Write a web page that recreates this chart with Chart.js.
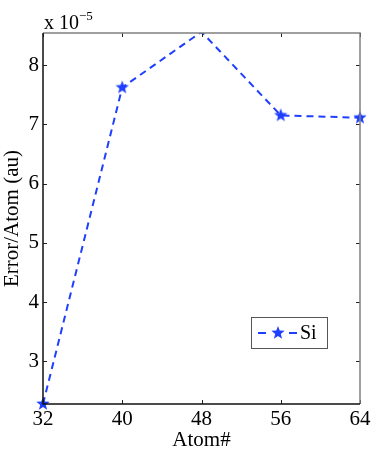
<!DOCTYPE html>
<html><head><meta charset="utf-8">
<script src="https://cdn.jsdelivr.net/npm/chart.js@4"></script>
<style>html,body{margin:0;padding:0;background:#fff}#wrap{width:374px;height:453px}</style>
</head><body><div id="wrap"><canvas id="c" width="374" height="453"></canvas></div>
<script>
const atoms = [32, 40, 48, 56, 64];
const si = [2.28, 7.62, 8.56, 7.15, 7.11];
const xTicks = [32, 40, 48, 56, 64];
const yTicks = [3, 4, 5, 6, 7, 8];
const seriesName = 'Si';
const xTitle = 'Atom#';
const yTitle = 'Error/Atom (au)';
const Y_MIN = 2.28, Y_MAX = 8.54;
const BLUE = '#1f3fff';
const FONT = '"Liberation Serif", "DejaVu Serif", serif';

function starCanvas(r, color) {
  const s = Math.ceil(r * 2 + 2);
  const c = document.createElement('canvas');
  c.width = s; c.height = s;
  const g = c.getContext('2d');
  g.fillStyle = color; g.beginPath();
  const cx = s / 2, cy = s / 2, ri = r * 0.42;
  for (let i = 0; i < 10; i++) {
    const a = -Math.PI / 2 + i * Math.PI / 5;
    const rr = i % 2 ? ri : r;
    const x = cx + rr * Math.cos(a), y = cy + rr * Math.sin(a);
    i ? g.lineTo(x, y) : g.moveTo(x, y);
  }
  g.closePath(); g.fill();
  return c;
}
const star = starCanvas(7, BLUE);

const framePlugin = {
  id: 'frame',
  afterDraw(chart) {
    const {ctx, chartArea: a, scales: {x, y}} = chart;
    ctx.save();
    ctx.lineWidth = 1;
    ctx.strokeStyle = '#222';
    xTicks.forEach(v => {
      const px = Math.round(x.getPixelForValue(v)) + 0.5;
      ctx.beginPath(); ctx.moveTo(px, a.bottom); ctx.lineTo(px, a.bottom - 4); ctx.stroke();
      ctx.beginPath(); ctx.moveTo(px, a.top); ctx.lineTo(px, a.top + 4); ctx.stroke();
    });
    yTicks.forEach(v => {
      const py = Math.round(y.getPixelForValue(v)) + 0.5;
      ctx.beginPath(); ctx.moveTo(a.left, py); ctx.lineTo(a.left + 4, py); ctx.stroke();
      ctx.beginPath(); ctx.moveTo(a.right, py); ctx.lineTo(a.right - 4, py); ctx.stroke();
    });
    ctx.lineWidth = 1.5;
    ctx.strokeStyle = '#808080';
    ctx.beginPath(); ctx.moveTo(a.left, a.top); ctx.lineTo(a.right, a.top); ctx.lineTo(a.right, a.bottom); ctx.stroke();
    ctx.strokeStyle = '#111';
    ctx.beginPath(); ctx.moveTo(a.left, a.top); ctx.lineTo(a.left, a.bottom); ctx.lineTo(a.right, a.bottom); ctx.stroke();
    // exponent label
    ctx.fillStyle = '#000';
    ctx.font = '20px ' + FONT;
    ctx.textBaseline = 'alphabetic';
    ctx.textAlign = 'left';
    ctx.fillText('x 10', 44, 29);
    const w = ctx.measureText('x 10').width;
    ctx.font = '13px ' + FONT;
    ctx.fillText('\u22125', 44 + w, 20);
    // legend
    const lx = 251, ly = 317, lw = 76, lh = 31;
    ctx.fillStyle = '#fff';
    ctx.fillRect(lx, ly, lw, lh);
    ctx.lineWidth = 1;
    ctx.strokeStyle = '#555';
    ctx.strokeRect(lx + 0.5, ly + 0.5, lw, lh);
    const cy = ly + lh / 2 + 0.5;
    ctx.strokeStyle = BLUE; ctx.lineWidth = 2;
    ctx.beginPath(); ctx.moveTo(258, cy); ctx.lineTo(266, cy); ctx.stroke();
    ctx.beginPath(); ctx.moveTo(289, cy); ctx.lineTo(297, cy); ctx.stroke();
    ctx.drawImage(star, 278 - star.width / 2, cy - star.height / 2);
    ctx.fillStyle = '#000';
    ctx.font = '20px ' + FONT;
    ctx.textBaseline = 'middle';
    ctx.fillText(seriesName, 300, cy + 1);
    ctx.restore();
  }
};

new Chart(document.getElementById('c'), {
  type: 'line',
  data: {
    datasets: [{
      label: seriesName,
      data: atoms.map((a, i) => ({x: a, y: si[i]})),
      borderColor: BLUE,
      backgroundColor: BLUE,
      borderWidth: 2,
      borderDash: [7, 5],
      pointStyle: star,
      pointRadius: c => (c.raw && c.raw.y > Y_MAX ? 0 : 7),
      pointHoverRadius: 7,
      tension: 0,
      clip: {left: 10, right: 10, top: 0, bottom: 10}
    }]
  },
  options: {
    responsive: false,
    animation: false,
    events: [],
    layout: {padding: {top: 33, right: 14, left: 0, bottom: 0}},
    plugins: {legend: {display: false}, tooltip: {enabled: false}},
    scales: {
      x: {
        type: 'linear', min: 32, max: 64,
        afterBuildTicks: s => { s.ticks = xTicks.map(v => ({value: v})); },
        afterFit: s => { s.height = 49; },
        grid: {display: false, drawTicks: false, tickLength: 0},
        border: {display: false},
        ticks: {color: '#000', font: {family: FONT, size: 21}, padding: 3, maxRotation: 0},
        title: {display: true, text: xTitle, color: '#000', font: {family: FONT, size: 21}, padding: {top: -8, bottom: 0}}
      },
      y: {
        type: 'linear', min: Y_MIN, max: Y_MAX,
        afterBuildTicks: s => { s.ticks = yTicks.map(v => ({value: v})); },
        afterFit: s => { s.width = 43; },
        grid: {display: false, drawTicks: false, tickLength: 0},
        border: {display: false},
        ticks: {color: '#000', font: {family: FONT, size: 21}, padding: 4},
        title: {display: true, text: yTitle, color: '#000', font: {family: FONT, size: 21}, padding: {top: 0, bottom: 0}}
      }
    }
  },
  plugins: [framePlugin]
});
</script></body></html>
